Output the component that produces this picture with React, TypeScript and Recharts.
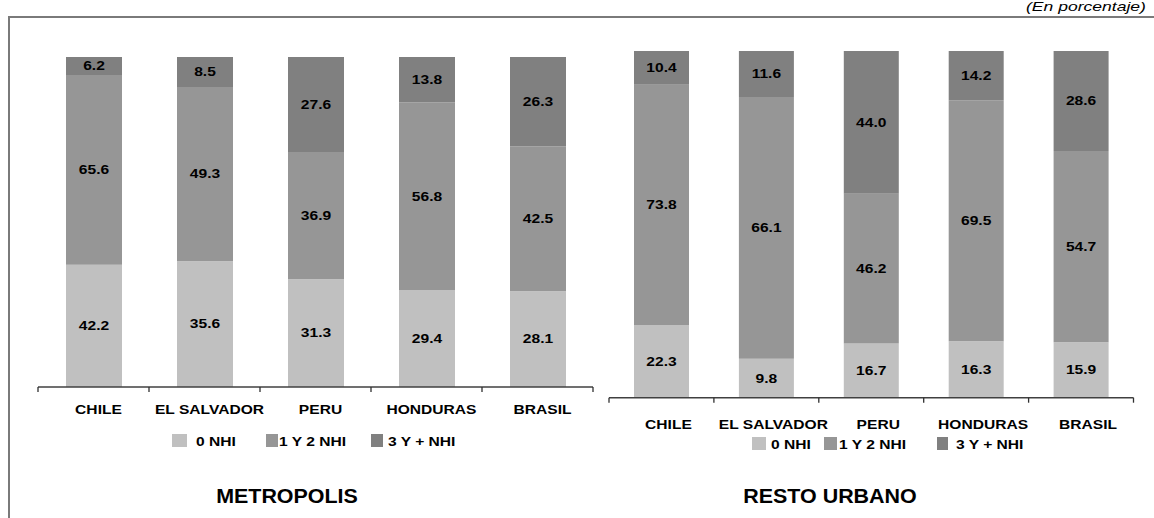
import React from "react";
import { BarChart, Bar, XAxis, YAxis, LabelList, Legend } from "recharts";

const CATEGORIES = ["CHILE", "EL SALVADOR", "PERU", "HONDURAS", "BRASIL"];
const SERIES = ["0 NHI", "1 Y 2 NHI", "3 Y + NHI"];
const COLORS = ["#c0c0c0", "#969696", "#808080"];

const METRO_0 = [42.2, 35.6, 31.3, 29.4, 28.1];
const METRO_12 = [65.6, 49.3, 36.9, 56.8, 42.5];
const METRO_3 = [6.2, 8.5, 27.6, 13.8, 26.3];

const RESTO_0 = [22.3, 9.8, 16.7, 16.3, 15.9];
const RESTO_12 = [73.8, 66.1, 46.2, 69.5, 54.7];
const RESTO_3 = [10.4, 11.6, 44.0, 14.2, 28.6];

const TITLES = ["METROPOLIS", "RESTO URBANO"];
const NOTE = "(En porcentaje)";

const W = 1154;
const H = 518;
const FONT = '"Liberation Sans", Arial, Helvetica, sans-serif';

const SText = ({ x, y, anchor = "middle", size = 12, sx = 1.3, weight = "bold", italic = false, fill = "#000", children }: any) => (
  <text
    x={x}
    y={y}
    textAnchor={anchor}
    fontSize={size}
    fontWeight={weight}
    fontStyle={italic ? "italic" : "normal"}
    fontFamily={FONT}
    fill={fill}
    transform={`translate(${x} 0) scale(${sx} 1) translate(${-x} 0)`}
  >
    {children}
  </text>
);

const buildData = (a: number[], b: number[], c: number[]) =>
  CATEGORIES.map((name, i) => ({ name, s0: a[i], s1: b[i], s2: c[i] }));

const makeTick = (band: number, dx: number, dy: number) => (props: any) => {
  const { x, y, payload, index } = props;
  const n = CATEGORIES.length;
  return (
    <g>
      <line x1={x - band / 2} y1={y} x2={x - band / 2} y2={y + 5} stroke="#303030" strokeWidth={1.3} />
      {index === n - 1 ? (
        <line x1={x + band / 2} y1={y} x2={x + band / 2} y2={y + 5} stroke="#303030" strokeWidth={1.3} />
      ) : null}
      <SText x={x + dx} y={y + dy}>{payload.value}</SText>
    </g>
  );
};

const makeLabel = (values: number[]) => (props: any) => {
  const { x, y, width, height, index } = props;
  const v = values[index];
  if (v == null) return null;
  return (
    <SText x={x + width / 2} y={y + height / 2 + 4.3}>
      {v.toFixed(1)}
    </SText>
  );
};

type LegendPos = { sq: number; sw: number; tx: number; sqTop: number; base: number };

const makeLegend = (chartW: number, pos: LegendPos[]) => (props: any) => {
  const payload = props.payload || [];
  return (
    <svg width={chartW} height={H} style={{ position: "absolute", left: 0, top: 0, overflow: "visible" }}>
      {payload.map((p: any, i: number) => {
        const ps = pos[i];
        if (!ps) return null;
        return (
          <g key={i}>
            <rect x={ps.sq} y={ps.sqTop} width={ps.sw} height={13} fill={p.color} />
            <SText x={ps.tx} y={ps.base} anchor="start">{p.value}</SText>
          </g>
        );
      })}
    </svg>
  );
};

const Panel = ({ left, width, data, values, margin, barSize, band, dx, dy, legendPos }: any) => (
  <div style={{ position: "absolute", left, top: 0, width, height: H }}>
    <BarChart width={width} height={H} data={data} stackOffset="expand" margin={margin} barCategoryGap={0}>
      <XAxis
        dataKey="name"
        height={30}
        axisLine={{ stroke: "#404040", strokeWidth: 1.5 }}
        tickLine={false}
        tickSize={0}
        tickMargin={0}
        interval={0}
        tick={makeTick(band, dx, dy)}
      />
      <YAxis hide domain={[0, 1]} />
      <Legend
        layout="horizontal"
        verticalAlign="middle"
        align="center"
        wrapperStyle={{ left: 0, top: 0, width, height: H }}
        content={makeLegend(width, legendPos)}
      />
      {["s0", "s1", "s2"].map((k, i) => (
        <Bar key={k} dataKey={k} name={SERIES[i]} stackId="a" fill={COLORS[i]} barSize={barSize} legendType="square" isAnimationActive={false}>
          <LabelList dataKey={k} content={makeLabel(values[i])} />
        </Bar>
      ))}
    </BarChart>
  </div>
);

export default function App() {
  const metroData = buildData(METRO_0, METRO_12, METRO_3);
  const restoData = buildData(RESTO_0, RESTO_12, RESTO_3);
  return (
    <div style={{ position: "absolute", left: 0, top: 0, width: W, height: H, overflow: "hidden", background: "#fff" }}>
      <div
        style={{
          position: "absolute",
          left: 8,
          top: 16,
          width: 2000,
          height: 1000,
          borderLeft: "2px solid #7a7a7a",
          borderTop: "2px solid #7a7a7a",
        }}
      />
      <Panel
        left={0}
        width={600}
        data={metroData}
        values={[METRO_0, METRO_12, METRO_3]}
        margin={{ top: 57, left: 38, right: 7, bottom: 101 }}
        barSize={56}
        band={111}
        dx={5}
        dy={27}
        legendPos={[
          { sq: 172, sw: 15, tx: 196, sqTop: 434, base: 446 },
          { sq: 266, sw: 12, tx: 279, sqTop: 434, base: 446 },
          { sq: 371, sw: 12, tx: 388, sqTop: 434, base: 446 },
        ]}
      />
      <Panel
        left={600}
        width={554}
        data={restoData}
        values={[RESTO_0, RESTO_12, RESTO_3]}
        margin={{ top: 51, left: 9, right: 20.5, bottom: 90.3 }}
        barSize={55}
        band={104.9}
        dx={7}
        dy={31}
        legendPos={[
          { sq: 152, sw: 14, tx: 171, sqTop: 437, base: 449.5 },
          { sq: 224, sw: 13, tx: 239, sqTop: 437, base: 449.5 },
          { sq: 337, sw: 11, tx: 356, sqTop: 437, base: 449.5 },
        ]}
      />
      <svg width={W} height={H} style={{ position: "absolute", left: 0, top: 0, pointerEvents: "none" }}>
        <SText x={287} y={503} size={19.5} sx={1.1}>{TITLES[0]}</SText>
        <SText x={830} y={503} size={19.5} sx={1.1}>{TITLES[1]}</SText>
        <SText x={1026} y={11} anchor="start" size={13} sx={1.35} weight="normal" italic>{NOTE}</SText>
      </svg>
    </div>
  );
}
